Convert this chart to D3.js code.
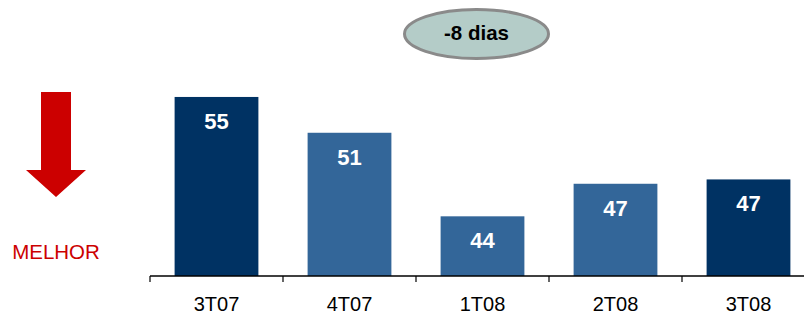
<!DOCTYPE html>
<html><head><meta charset="utf-8">
<script src="https://cdn.jsdelivr.net/npm/d3@7"></script>
<style>body{margin:0;background:#fff}svg{display:block}</style>
</head><body>
<script>
const categories = ["3T07","4T07","1T08","2T08","3T08"];
const values = [55, 51.7, 44, 47, 47.4];
const labels = ["55","51","44","47","47"];
const highlight = [true,false,false,false,true];
const badgeText = "-8 dias";
const sideText = "MELHOR";

const W=804,H=316;
const svg=d3.select("body").append("svg").attr("width",W).attr("height",H);
const font="Liberation Sans, Arial, Helvetica, sans-serif";

const x=d3.scaleBand().domain(categories).range([150,815]).paddingInner(0.37).paddingOuter(0.185);
const y=d3.scaleLinear().domain([38.5,60]).range([276,42.7]);

// bars
svg.selectAll("rect.bar").data(categories).join("rect")
  .attr("x",d=>x(d)).attr("width",x.bandwidth())
  .attr("y",(d,i)=>y(values[i])).attr("height",(d,i)=>y(38.5)-y(values[i]))
  .attr("fill",(d,i)=>highlight[i]?"#003263":"#336699");

svg.selectAll("text.val").data(categories).join("text")
  .attr("x",d=>x(d)+x.bandwidth()/2).attr("y",(d,i)=>y(values[i])+32)
  .attr("text-anchor","middle").attr("fill","#fff")
  .attr("font-family",font).attr("font-weight","bold").attr("font-size",22)
  .text((d,i)=>labels[i]);

// axis
const step=x.step();
const bounds=d3.range(categories.length).map(i=>150+i*step);
svg.append("line").attr("x1",150).attr("x2",W).attr("y1",276).attr("y2",276)
  .attr("stroke","#000").attr("stroke-width",1.5);
svg.selectAll("line.tick").data(bounds).join("line")
  .attr("x1",d=>d).attr("x2",d=>d).attr("y1",276).attr("y2",282)
  .attr("stroke","#000").attr("stroke-width",1.2);
svg.selectAll("text.cat").data(categories).join("text")
  .attr("x",d=>x(d)+x.bandwidth()/2).attr("y",311)
  .attr("text-anchor","middle").attr("fill","#000")
  .attr("font-family",font).attr("font-size",20).text(d=>d);

// arrow
svg.append("path")
  .attr("d","M41,92 L71,92 L71,170 L86,170 L56,197 L26,170 L41,170 Z")
  .attr("fill","#cc0000");
svg.append("text").attr("x",56).attr("y",259).attr("text-anchor","middle")
  .attr("fill","#cc0000").attr("font-family",font).attr("font-size",20.5).text(sideText);

// badge
svg.append("ellipse").attr("cx",476.5).attr("cy",34).attr("rx",72).attr("ry",24.5)
  .attr("fill","#b4ccc8").attr("stroke","#8a8a8a").attr("stroke-width",3);
svg.append("text").attr("x",476.5).attr("y",39.5).attr("text-anchor","middle")
  .attr("fill","#000").attr("font-family",font).attr("font-weight","bold").attr("font-size",20.5)
  .text(badgeText);
</script>
</body></html>
